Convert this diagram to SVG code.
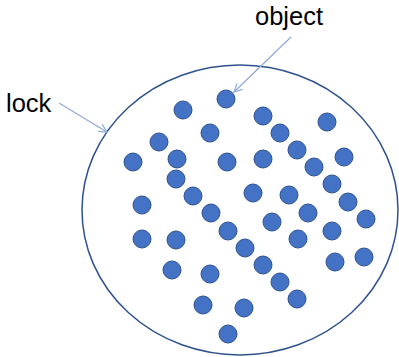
<svg xmlns="http://www.w3.org/2000/svg" width="399" height="357" viewBox="0 0 399 357">
  <style>
    .label { font-family: "Liberation Sans", Arial, sans-serif; font-size: 25.5px; fill: #000; }
    .dot { fill: #4472C4; stroke: #2F528F; stroke-width: 1; }
    .boundary { fill: none; stroke: #2F528F; stroke-width: 1.5; }
    .pointer { fill: none; stroke: #8FAADC; stroke-width: 1.2; }
  </style>
  <defs>
    <marker id="openHead" viewBox="0 0 10 10" refX="9" refY="5" markerWidth="10" markerHeight="10" markerUnits="userSpaceOnUse" orient="auto">
      <path d="M1,1 L9,5 L1,9" fill="none" stroke="#8FAADC" stroke-width="1.2"/>
    </marker>
  </defs>

  <g id="lock">
    <ellipse class="boundary" cx="240" cy="210" rx="158" ry="145"/>
    <text class="label" x="6" y="112">lock</text>
  </g>

  <g id="object-label">
    <text class="label" x="255" y="25">object</text>
  </g>

  <g id="objects">
    <circle class="dot" cx="183" cy="110" r="9"/>
    <circle class="dot" cx="226" cy="99" r="9"/>
    <circle class="dot" cx="263" cy="116" r="9"/>
    <circle class="dot" cx="327" cy="122" r="9"/>
    <circle class="dot" cx="210" cy="133" r="9"/>
    <circle class="dot" cx="280" cy="133" r="9"/>
    <circle class="dot" cx="159" cy="142" r="9"/>
    <circle class="dot" cx="297" cy="150" r="9"/>
    <circle class="dot" cx="133" cy="162" r="9"/>
    <circle class="dot" cx="177" cy="159" r="9"/>
    <circle class="dot" cx="227" cy="162" r="9"/>
    <circle class="dot" cx="263" cy="159" r="9"/>
    <circle class="dot" cx="344" cy="157" r="9"/>
    <circle class="dot" cx="314" cy="167" r="9"/>
    <circle class="dot" cx="176" cy="179" r="9"/>
    <circle class="dot" cx="332" cy="184" r="9"/>
    <circle class="dot" cx="193" cy="196" r="9"/>
    <circle class="dot" cx="253" cy="193" r="9"/>
    <circle class="dot" cx="289" cy="195" r="9"/>
    <circle class="dot" cx="348" cy="202" r="9"/>
    <circle class="dot" cx="142" cy="205" r="9"/>
    <circle class="dot" cx="211" cy="213" r="9"/>
    <circle class="dot" cx="308" cy="213" r="9"/>
    <circle class="dot" cx="366" cy="219" r="9"/>
    <circle class="dot" cx="272" cy="222" r="9"/>
    <circle class="dot" cx="228" cy="231" r="9"/>
    <circle class="dot" cx="332" cy="231" r="9"/>
    <circle class="dot" cx="142" cy="239" r="9"/>
    <circle class="dot" cx="176" cy="240" r="9"/>
    <circle class="dot" cx="298" cy="239" r="9"/>
    <circle class="dot" cx="245" cy="248" r="9"/>
    <circle class="dot" cx="263" cy="265" r="9"/>
    <circle class="dot" cx="335" cy="262" r="9"/>
    <circle class="dot" cx="364" cy="257" r="9"/>
    <circle class="dot" cx="172" cy="270" r="9"/>
    <circle class="dot" cx="210" cy="274" r="9"/>
    <circle class="dot" cx="280" cy="282" r="9"/>
    <circle class="dot" cx="297" cy="299" r="9"/>
    <circle class="dot" cx="203" cy="305" r="9"/>
    <circle class="dot" cx="244" cy="308" r="9"/>
    <circle class="dot" cx="228" cy="334" r="9"/>
  </g>

  <g id="connectors">
    <line class="pointer" x1="59" y1="103" x2="107" y2="132" marker-end="url(#openHead)"/>
    <line class="pointer" x1="291" y1="37" x2="234" y2="92" marker-end="url(#openHead)"/>
  </g>
</svg>
